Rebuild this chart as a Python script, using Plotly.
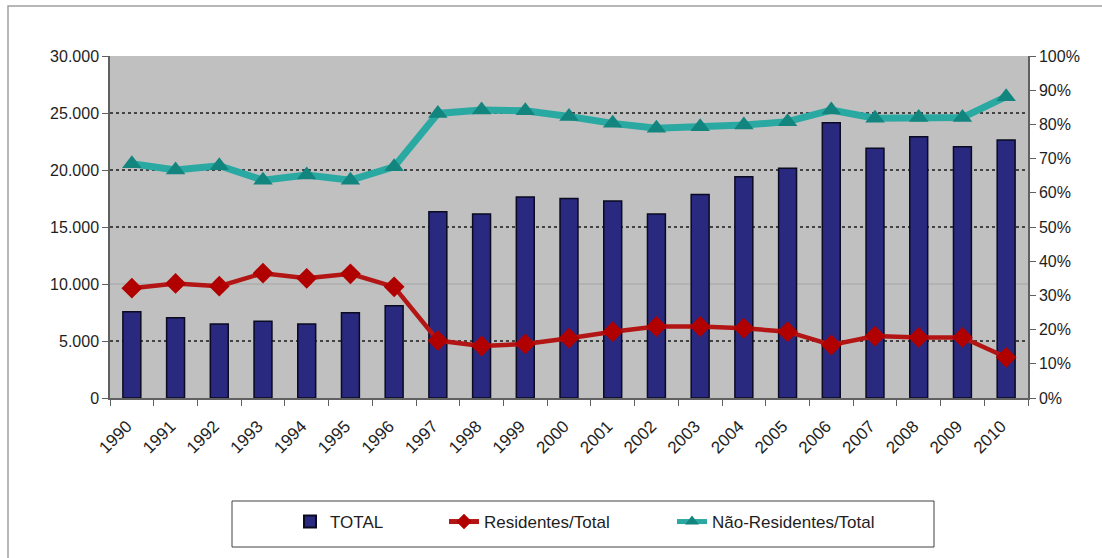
import plotly.graph_objects as go

# Annual totals and resident / non-resident shares
anos = [str(a) for a in range(1990, 2011)]
total = [7570, 7040, 6490, 6730, 6490, 7480, 8100, 16340, 16140, 17630, 17510,
         17280, 16140, 17840, 19410, 20150, 24150, 21900, 22920, 22050, 22630]
residentes_pct = [32.1, 33.5, 32.7, 36.5, 35.0, 36.3, 32.5, 16.8, 15.2, 15.8, 17.5,
                  19.4, 20.9, 20.9, 20.4, 19.4, 15.5, 18.1, 17.7, 17.7, 11.9]
nao_residentes_pct = [68.5, 66.7, 67.9, 63.7, 65.2, 63.7, 67.6, 83.2, 84.2, 84.0, 82.3,
                      80.3, 78.9, 79.3, 79.8, 80.8, 84.2, 81.8, 82.0, 82.0, 88.1]
left_ticks = [0, 5000, 10000, 15000, 20000, 25000, 30000]
right_ticks = list(range(0, 101, 10))
right_labels = [f"{v}%" for v in right_ticks]

W, H = 1102, 558
L, R, T, B = 110, 74, 56, 160
pw, ph = W - L - R, H - T - B


def px_x(x):
    return (x - L) / pw


def px_y(y):
    return (H - B - y) / ph


FONT = "Arial"
TXT = "#1e1e1e"

fig = go.Figure()

fig.add_trace(go.Bar(
    x=anos, y=total, name="TOTAL", yaxis="y",
    marker=dict(color="#29297f", line=dict(color="#0a0a20", width=1.5)),
    width=0.41, legend="legend",
))

fig.add_trace(go.Scatter(
    x=anos, y=residentes_pct, name="Residentes/Total", yaxis="y2",
    mode="lines+markers",
    line=dict(color="#b31414", width=4.5),
    marker=dict(symbol="diamond", size=16, color="#b00000"),
    legend="legend2",
))

fig.add_trace(go.Scatter(
    x=anos, y=nao_residentes_pct, name="Não-Residentes/Total", yaxis="y2",
    mode="lines+markers",
    line=dict(color="#2aa8a2", width=7),
    marker=dict(symbol="triangle-up", size=17, color="#12857f"),
    legend="legend3",
))

legend_common = dict(
    orientation="h", yanchor="middle", xanchor="left",
    bgcolor="rgba(0,0,0,0)", borderwidth=0, itemsizing="constant",
    font=dict(family=FONT, size=17, color=TXT),
)

# horizontal gridlines for the left axis; the 10.000 line is a lighter solid rule
grid_shapes = []
for v in left_ticks[1:-1]:
    if v == 10000:
        style = dict(color="#a4a4a4", width=1, dash="solid")
    else:
        style = dict(color="#1a1a1a", width=1.3, dash="dot")
    grid_shapes.append(dict(type="line", xref="paper", yref="y",
                            x0=0, x1=1, y0=v, y1=v, line=style, layer="below"))

fig.update_layout(
    width=W, height=H,
    margin=dict(l=L, r=R, t=T, b=B, pad=0),
    paper_bgcolor="white",
    plot_bgcolor="#c0c0c0",
    separators=",.",
    font=dict(family=FONT, size=16, color=TXT),
    bargap=0.59,
    xaxis=dict(
        type="category", tickangle=-45, tickson="boundaries",
        ticks="outside", ticklen=6, tickcolor="#606060",
        showline=True, linecolor="#606060", linewidth=1.5,
        showgrid=False, tickfont=dict(family=FONT, size=17),
        ticklabelstandoff=10, ticklabelshift=-5,
        range=[-0.5, 20.5],
    ),
    yaxis=dict(
        range=[0, 30000], tickvals=left_ticks, tickformat=",d",
        ticks="outside", ticklen=6, tickcolor="#606060",
        showline=True, linecolor="#606060", linewidth=1.5,
        showgrid=False, zeroline=False, tickfont=dict(family=FONT, size=16),
    ),
    yaxis2=dict(
        overlaying="y", side="right", range=[0, 100],
        tickvals=right_ticks, ticktext=right_labels,
        ticks="outside", ticklen=6, tickcolor="#606060",
        showline=True, linecolor="#606060", linewidth=1.5,
        showgrid=False, zeroline=False, tickfont=dict(family=FONT, size=16),
    ),
    showlegend=True,
    legend=dict(x=px_x(290), y=px_y(522), **legend_common),
    legend2=dict(x=px_x(444), y=px_y(522), **legend_common),
    legend3=dict(x=px_x(672), y=px_y(522), **legend_common),
    shapes=grid_shapes + [
        # outer frame
        dict(type="rect", xref="paper", yref="paper",
             x0=px_x(8), x1=px_x(1140), y0=px_y(600), y1=px_y(6),
             line=dict(color="#a0a0a0", width=1.5), layer="below"),
        # legend frame
        dict(type="rect", xref="paper", yref="paper",
             x0=px_x(232), x1=px_x(934), y0=px_y(547), y1=px_y(501),
             line=dict(color="#404040", width=1), layer="below"),
    ],
)

fig.write_html("out.html")
